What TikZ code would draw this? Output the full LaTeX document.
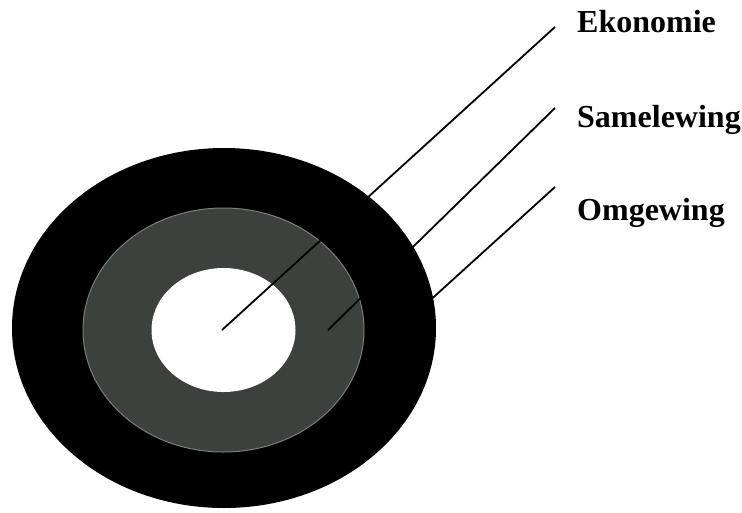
\documentclass[tikz,border=0pt]{standalone}
\usepackage{fontspec}
\setmainfont{Liberation Serif}
\usetikzlibrary{positioning,calc}
\definecolor{ring}{HTML}{3C413E}
\definecolor{ringedge}{HTML}{7A7F7C}
\tikzset{lab/.style={anchor=base west,inner sep=0pt,font=\bfseries\fontsize{32}{35}\selectfont},lead/.style={line width=1.8pt,black}}
\begin{document}
\begin{tikzpicture}[x=1pt,y=-1pt]
\useasboundingbox (0,0) rectangle (742,512);
\fill[black] (224,328) ellipse [x radius=212,y radius=180];
\fill[ring,draw=ringedge,line width=1pt] (223.5,330) ellipse [x radius=140.5,y radius=122];
\fill[white] (223.5,330) ellipse [x radius=72,y radius=62];
\node[lab] (eko) at (577,32) {Ekonomie};
\node[lab] (sam) at (577,127) {Samelewing};
\node[lab] (omg) at (577,220) {Omgewing};
\coordinate (ekoend) at (555,27);\coordinate (samend) at (555,108);\coordinate (omgend) at (555,187);
\coordinate (ekoin) at (222,330);\coordinate (samin) at (328,330);\coordinate (omgin) at (415,314);
\draw[lead](ekoin)--(ekoend);\draw[lead](samin)--(samend);\draw[lead](omgin)--(omgend);
\end{tikzpicture}
\end{document}
